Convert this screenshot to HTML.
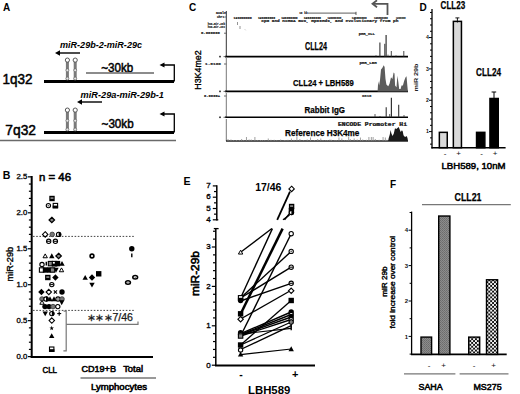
<!DOCTYPE html><html><head><meta charset="utf-8"><style>html,body{margin:0;padding:0;background:#fff;}svg{display:block;font-family:"Liberation Sans",sans-serif;}</style></head><body>
<svg width="520" height="394" viewBox="0 0 520 394">
<defs><pattern id="hatch" width="2" height="2" patternUnits="userSpaceOnUse"><rect width="2" height="2" fill="#8c8c8c"/><rect width="1" height="1" fill="#6c6c6c"/><rect x="1" y="1" width="1" height="1" fill="#747474"/></pattern><pattern id="check" width="3.8" height="3.8" patternUnits="userSpaceOnUse"><rect width="3.8" height="3.8" fill="#f4f4f4"/><rect width="1.9" height="1.9" fill="#111"/><rect x="1.9" y="1.9" width="1.9" height="1.9" fill="#111"/></pattern></defs>
<rect width="520" height="394" fill="#fff"/>
<text x="3" y="11" font-size="10" font-weight="bold" font-style="normal" fill="#000" text-anchor="start" >A</text>
<text x="60" y="48" font-size="9.5" font-weight="bold" font-style="italic" fill="#000" text-anchor="start" textLength="82" lengthAdjust="spacingAndGlyphs" >miR-29b-2-miR-29c</text>
<line x1="58" y1="53" x2="80" y2="53" stroke="#000" stroke-width="1.4" />
<polygon points="55,53 60,50.3 60,55.7" fill="#000" stroke="none" stroke-width="0"/>
<text x="80.6" y="98.3" font-size="9.5" font-weight="bold" font-style="italic" fill="#000" text-anchor="start" textLength="83.4" lengthAdjust="spacingAndGlyphs" >miR-29a-miR-29b-1</text>
<line x1="80" y1="102" x2="102" y2="102" stroke="#000" stroke-width="1.4" />
<polygon points="77,102 82,99.3 82,104.7" fill="#000" stroke="none" stroke-width="0"/>
<text x="2.4" y="84.3" font-size="14.5" font-weight="normal" font-style="normal" fill="#000" text-anchor="start" textLength="30" lengthAdjust="spacingAndGlyphs" stroke="#000" stroke-width="0.5">1q32</text>
<line x1="44" y1="81.5" x2="174" y2="81.5" stroke="#000" stroke-width="3" />
<text x="101.3" y="71.5" font-size="12.5" font-weight="normal" font-style="normal" fill="#000" text-anchor="start" textLength="32" lengthAdjust="spacingAndGlyphs" stroke="#000" stroke-width="0.5">~30kb</text>
<polyline points="174.3,81.5 174.3,65 163,65" fill="none" stroke="#000" stroke-width="1.3" />
<polygon points="159.5,65 164.5,62.4 164.5,67.6" fill="#000" stroke="none" stroke-width="0"/>
<text x="5.3" y="134.7" font-size="14.5" font-weight="normal" font-style="normal" fill="#000" text-anchor="start" textLength="30.7" lengthAdjust="spacingAndGlyphs" stroke="#000" stroke-width="0.5">7q32</text>
<line x1="44" y1="132.5" x2="174" y2="132.5" stroke="#000" stroke-width="3" />
<text x="101.6" y="127.5" font-size="12.5" font-weight="normal" font-style="normal" fill="#000" text-anchor="start" textLength="32" lengthAdjust="spacingAndGlyphs" stroke="#000" stroke-width="0.5">~30kb</text>
<polyline points="174.3,132.5 174.3,114 163,114" fill="none" stroke="#000" stroke-width="1.3" />
<polygon points="159.5,114 164.5,111.4 164.5,116.6" fill="#000" stroke="none" stroke-width="0"/>
<line x1="86" y1="73" x2="154" y2="73" stroke="#666" stroke-width="1.3" />
<rect x="65.9" y="61.7" width="3.0" height="18.299999999999997" fill="#7a7a7a" stroke="none" stroke-width="0" />
<circle cx="67.4" cy="70.21000000000001" r="1.5" fill="#e6e6e6" stroke="#666" stroke-width="0.7"/>
<circle cx="67.4" cy="78.576" r="1.5" fill="#e6e6e6" stroke="#666" stroke-width="0.7"/>
<circle cx="67.4" cy="60.1" r="2.1" fill="#fff" stroke="#555" stroke-width="1.0"/>
<rect x="65.9" y="111.7" width="3.0" height="19.299999999999997" fill="#7a7a7a" stroke="none" stroke-width="0" />
<circle cx="67.4" cy="120.66" r="1.5" fill="#e6e6e6" stroke="#666" stroke-width="0.7"/>
<circle cx="67.4" cy="129.496" r="1.5" fill="#e6e6e6" stroke="#666" stroke-width="0.7"/>
<circle cx="67.4" cy="110.1" r="2.1" fill="#fff" stroke="#555" stroke-width="1.0"/>
<rect x="73.7" y="61.7" width="3.0" height="18.299999999999997" fill="#7a7a7a" stroke="none" stroke-width="0" />
<circle cx="75.2" cy="70.21000000000001" r="1.5" fill="#e6e6e6" stroke="#666" stroke-width="0.7"/>
<circle cx="75.2" cy="78.576" r="1.5" fill="#e6e6e6" stroke="#666" stroke-width="0.7"/>
<circle cx="75.2" cy="60.1" r="2.1" fill="#fff" stroke="#555" stroke-width="1.0"/>
<rect x="73.7" y="111.7" width="3.0" height="19.299999999999997" fill="#7a7a7a" stroke="none" stroke-width="0" />
<circle cx="75.2" cy="120.66" r="1.5" fill="#e6e6e6" stroke="#666" stroke-width="0.7"/>
<circle cx="75.2" cy="129.496" r="1.5" fill="#e6e6e6" stroke="#666" stroke-width="0.7"/>
<circle cx="75.2" cy="110.1" r="2.1" fill="#fff" stroke="#555" stroke-width="1.0"/>
<line x1="0" y1="140.5" x2="176" y2="140.5" stroke="#6a6a6a" stroke-width="1.6" />
<text x="189" y="11" font-size="10" font-weight="bold" font-style="normal" fill="#000" text-anchor="start" >C</text>
<text x="200.6" y="70" font-size="9.2" font-weight="normal" font-style="normal" fill="#000" text-anchor="middle" textLength="39.5" lengthAdjust="spacingAndGlyphs" transform="rotate(-90 200.6 70)" stroke="#000" stroke-width="0.35">H3K4me2</text>
<line x1="226.3" y1="11" x2="226.3" y2="56.6" stroke="#333" stroke-width="1" />
<line x1="226.3" y1="58" x2="226.3" y2="91.4" stroke="#777" stroke-width="1" />
<line x1="226.3" y1="93" x2="226.3" y2="117.3" stroke="#777" stroke-width="1" />
<line x1="226.3" y1="119" x2="226.3" y2="141" stroke="#777" stroke-width="1" />
<line x1="225" y1="56.6" x2="408" y2="56.6" stroke="#000" stroke-width="1.8" />
<line x1="225" y1="91.4" x2="408" y2="91.4" stroke="#000" stroke-width="1.6" />
<line x1="225" y1="117.3" x2="408" y2="117.3" stroke="#000" stroke-width="1.6" />
<line x1="226" y1="141" x2="408" y2="141" stroke="#222" stroke-width="1.4" />
<rect x="219.2" y="55.800000000000004" width="1.6" height="1.6" fill="#222" stroke="none" stroke-width="0" />
<line x1="223.5" y1="56.6" x2="226" y2="56.6" stroke="#444" stroke-width="0.8" />
<rect x="219.2" y="90.60000000000001" width="1.6" height="1.6" fill="#222" stroke="none" stroke-width="0" />
<line x1="223.5" y1="91.4" x2="226" y2="91.4" stroke="#444" stroke-width="0.8" />
<rect x="219.2" y="116.5" width="1.6" height="1.6" fill="#222" stroke="none" stroke-width="0" />
<line x1="223.5" y1="117.3" x2="226" y2="117.3" stroke="#444" stroke-width="0.8" />
<text x="201" y="34.4" font-size="4.32" font-weight="bold" font-style="normal" fill="#111" text-anchor="start" font-family="Liberation Mono, monospace" stroke="#111" stroke-width="0.22" textLength="19" lengthAdjust="spacingAndGlyphs" >0.000000</text>
<line x1="224" y1="33.2" x2="226.3" y2="33.2" stroke="#444" stroke-width="0.8" />
<text x="205" y="64.6" font-size="4.32" font-weight="bold" font-style="normal" fill="#222" text-anchor="start" font-family="Liberation Mono, monospace" stroke="#222" stroke-width="0.22" textLength="16" lengthAdjust="spacingAndGlyphs" >1.6100</text>
<line x1="224" y1="64" x2="226.3" y2="64" stroke="#444" stroke-width="0.8" />
<text x="204" y="96.6" font-size="4.32" font-weight="bold" font-style="normal" fill="#111" text-anchor="start" font-family="Liberation Mono, monospace" stroke="#111" stroke-width="0.22" textLength="16" lengthAdjust="spacingAndGlyphs" >0.0000+</text>
<line x1="224" y1="96" x2="226.3" y2="96" stroke="#444" stroke-width="0.8" />
<text x="216" y="13.6" font-size="3.6" font-weight="bold" font-style="normal" fill="#222" text-anchor="start" font-family="Liberation Mono, monospace" stroke="#222" stroke-width="0.22" textLength="10" lengthAdjust="spacingAndGlyphs" >Scale</text>
<text x="217" y="17.8" font-size="3.6" font-weight="bold" font-style="normal" fill="#222" text-anchor="start" font-family="Liberation Mono, monospace" stroke="#222" stroke-width="0.22" textLength="9" lengthAdjust="spacingAndGlyphs" >chr1:</text>
<text x="207.7" y="24.8" font-size="3.36" font-weight="bold" font-style="normal" fill="#333" text-anchor="start" font-family="Liberation Mono, monospace" stroke="#333" stroke-width="0.22" textLength="17.3" lengthAdjust="spacingAndGlyphs" >hsa-mir-29b</text>
<text x="207.7" y="28.2" font-size="3.36" font-weight="bold" font-style="normal" fill="#333" text-anchor="start" font-family="Liberation Mono, monospace" stroke="#333" stroke-width="0.22" textLength="17.3" lengthAdjust="spacingAndGlyphs" >hsa-mir-29c</text>
<text x="233.6" y="18.6" font-size="4.08" font-weight="bold" font-style="normal" fill="#111" text-anchor="start" font-family="Liberation Mono, monospace" stroke="#111" stroke-width="0.22" textLength="18.2" lengthAdjust="spacingAndGlyphs" >120300000</text>
<text x="257.9" y="18.6" font-size="4.08" font-weight="bold" font-style="normal" fill="#111" text-anchor="start" font-family="Liberation Mono, monospace" stroke="#111" stroke-width="0.22" textLength="17.3" lengthAdjust="spacingAndGlyphs" >120300000</text>
<text x="281.2" y="18.6" font-size="4.08" font-weight="bold" font-style="normal" fill="#111" text-anchor="start" font-family="Liberation Mono, monospace" stroke="#111" stroke-width="0.22" textLength="16.5" lengthAdjust="spacingAndGlyphs" >120300000</text>
<text x="303.7" y="18.6" font-size="4.08" font-weight="bold" font-style="normal" fill="#111" text-anchor="start" font-family="Liberation Mono, monospace" stroke="#111" stroke-width="0.22" textLength="17.3" lengthAdjust="spacingAndGlyphs" >120300000</text>
<text x="327.5" y="18.6" font-size="4.08" font-weight="bold" font-style="normal" fill="#111" text-anchor="start" font-family="Liberation Mono, monospace" stroke="#111" stroke-width="0.22" textLength="13.7" lengthAdjust="spacingAndGlyphs" >120300000</text>
<text x="351.8" y="18.6" font-size="4.08" font-weight="bold" font-style="normal" fill="#111" text-anchor="start" font-family="Liberation Mono, monospace" stroke="#111" stroke-width="0.22" textLength="14.8" lengthAdjust="spacingAndGlyphs" >120300000</text>
<text x="374" y="18.6" font-size="4.08" font-weight="bold" font-style="normal" fill="#111" text-anchor="start" font-family="Liberation Mono, monospace" stroke="#111" stroke-width="0.22" textLength="13.7" lengthAdjust="spacingAndGlyphs" >120300000</text>
<text x="396" y="18.6" font-size="4.08" font-weight="bold" font-style="normal" fill="#111" text-anchor="start" font-family="Liberation Mono, monospace" stroke="#111" stroke-width="0.22" textLength="9.7" lengthAdjust="spacingAndGlyphs" >120300000</text>
<text x="261.3" y="22.4" font-size="3.6" font-weight="bold" font-style="normal" fill="#222" text-anchor="start" font-family="Liberation Mono, monospace" stroke="#222" stroke-width="0.22" textLength="137" lengthAdjust="spacingAndGlyphs" >CpG and ncRNA Bus, Mp99Hds, and evolutionary from ph</text>
<text x="299.2" y="14.0" font-size="4.32" font-weight="bold" font-style="normal" fill="#222" text-anchor="start" font-family="Liberation Mono, monospace" stroke="#222" stroke-width="0.22" textLength="8.4" lengthAdjust="spacingAndGlyphs" >10 kb</text>
<line x1="308" y1="13.1" x2="356" y2="13.1" stroke="#333" stroke-width="0.8" />
<line x1="356" y1="11.8" x2="356" y2="15" stroke="#333" stroke-width="0.8" />
<line x1="237.5" y1="22" x2="237.5" y2="25" stroke="#666" stroke-width="0.7" />
<line x1="240" y1="26" x2="240" y2="29" stroke="#666" stroke-width="0.7" />
<line x1="245" y1="29.5" x2="245.6" y2="30.2" stroke="#888" stroke-width="0.7" />
<polyline points="387.5,15 387.5,3.8 373,3.8" fill="none" stroke="#555" stroke-width="1.8" />
<polyline points="377,0.3 372.5,3.8 377,7.3" fill="none" stroke="#555" stroke-width="1.8" />
<text x="305" y="50.2" font-size="10.4" font-weight="bold" font-style="normal" fill="#000" text-anchor="start" textLength="22" lengthAdjust="spacingAndGlyphs" stroke="#000" stroke-width="0.25">CLL24</text>
<text x="293" y="85.9" font-size="9.8" font-weight="bold" font-style="normal" fill="#000" text-anchor="start" textLength="60.7" lengthAdjust="spacingAndGlyphs" stroke="#000" stroke-width="0.25">CLL24 + LBH589</text>
<text x="304.6" y="113.3" font-size="9.4" font-weight="bold" font-style="normal" fill="#000" text-anchor="start" textLength="40.4" lengthAdjust="spacingAndGlyphs" stroke="#000" stroke-width="0.25">Rabbit IgG</text>
<text x="285" y="136.4" font-size="8.9" font-weight="bold" font-style="normal" fill="#000" text-anchor="start" textLength="74.4" lengthAdjust="spacingAndGlyphs" stroke="#000" stroke-width="0.25">Reference H3K4me</text>
<text x="358.7" y="34.8" font-size="3.6" font-weight="bold" font-style="normal" fill="#222" text-anchor="start" font-family="Liberation Mono, monospace" stroke="#222" stroke-width="0.22" textLength="16.2" lengthAdjust="spacingAndGlyphs" >pHR_CLL</text>
<text x="359.4" y="63.6" font-size="3.6" font-weight="bold" font-style="normal" fill="#222" text-anchor="start" font-family="Liberation Mono, monospace" stroke="#222" stroke-width="0.22" textLength="17.3" lengthAdjust="spacingAndGlyphs" >pHR_LBH</text>
<text x="362" y="96.8" font-size="3.6" font-weight="bold" font-style="normal" fill="#333" text-anchor="start" font-family="Liberation Mono, monospace" stroke="#333" stroke-width="0.22" textLength="9.5" lengthAdjust="spacingAndGlyphs" >0816</text>
<text x="338" y="125.8" font-size="4.56" font-weight="bold" font-style="normal" fill="#111" text-anchor="start" font-family="Liberation Mono, monospace" stroke="#111" stroke-width="0.22" textLength="69" lengthAdjust="spacingAndGlyphs" >ENCODE Promoter Hi</text>
<line x1="379.9" y1="42.5" x2="379.9" y2="56.6" stroke="#333" stroke-width="1.1" />
<line x1="384.8" y1="43.8" x2="384.8" y2="56.6" stroke="#333" stroke-width="1.0" />
<line x1="386.1" y1="35" x2="386.1" y2="56.6" stroke="#333" stroke-width="1.2" />
<line x1="391.3" y1="51" x2="391.3" y2="56.6" stroke="#333" stroke-width="0.9" />
<line x1="403.8" y1="51" x2="403.8" y2="56.6" stroke="#333" stroke-width="0.9" />
<line x1="376" y1="55" x2="376" y2="56.6" stroke="#333" stroke-width="0.6" />
<line x1="388" y1="54.5" x2="388" y2="56.6" stroke="#333" stroke-width="0.6" />
<line x1="396" y1="55.2" x2="396" y2="56.6" stroke="#333" stroke-width="0.6" />
<polygon points="377.6,91.4 378.2,81.3 379.1,85.4 380,80 381,69.4 382.3,68 383.7,65.3 384.6,67.1 385.5,79 386.4,84.5 387.4,85.4 388.3,86.3 389.6,83.6 391,77.2 392.4,79 393.6,72.6 394.5,73.5 395.1,85.4 396.5,87.2 397.4,75.8 398.3,81.7 399.2,89 400.6,89 401.5,85.4 402.9,85.4 404.2,80.8 405.6,77.2 406.5,76.3 407.4,86.3 407.9,91.4" fill="#5c5c5c" stroke="none" stroke-width="0"/>
<line x1="375" y1="114" x2="375" y2="117.3" stroke="#333" stroke-width="0.8" />
<line x1="380" y1="116" x2="380" y2="117.3" stroke="#333" stroke-width="0.8" />
<line x1="386.2" y1="107.3" x2="386.2" y2="117.3" stroke="#333" stroke-width="1.1" />
<line x1="389.7" y1="114" x2="389.7" y2="117.3" stroke="#333" stroke-width="0.8" />
<line x1="391.4" y1="97.8" x2="391.4" y2="117.3" stroke="#333" stroke-width="1.2" />
<line x1="398.7" y1="104.7" x2="398.7" y2="117.3" stroke="#333" stroke-width="1.1" />
<line x1="404" y1="115" x2="404" y2="117.3" stroke="#333" stroke-width="0.8" />
<line x1="228" y1="139" x2="228" y2="141" stroke="#888" stroke-width="0.8" />
<line x1="230.9816022765679" y1="139.5" x2="230.9816022765679" y2="141" stroke="#888" stroke-width="0.8" />
<line x1="233.40649019293812" y1="140.2" x2="233.40649019293812" y2="141" stroke="#888" stroke-width="0.8" />
<line x1="236.47079095320825" y1="140" x2="236.47079095320825" y2="141" stroke="#888" stroke-width="0.8" />
<line x1="239.48478977855657" y1="140.2" x2="239.48478977855657" y2="141" stroke="#888" stroke-width="0.8" />
<line x1="241.6331748143766" y1="139" x2="241.6331748143766" y2="141" stroke="#888" stroke-width="0.8" />
<line x1="243.61253507436484" y1="140.2" x2="243.61253507436484" y2="141" stroke="#888" stroke-width="0.8" />
<line x1="246.46496978843743" y1="137" x2="246.46496978843743" y2="141" stroke="#888" stroke-width="0.8" />
<line x1="249.15585281018576" y1="139.5" x2="249.15585281018576" y2="141" stroke="#888" stroke-width="0.8" />
<line x1="251.23565782362743" y1="139.5" x2="251.23565782362743" y2="141" stroke="#888" stroke-width="0.8" />
<line x1="254.9057710914857" y1="137" x2="254.9057710914857" y2="141" stroke="#888" stroke-width="0.8" />
<line x1="257.3806128937037" y1="140.2" x2="257.3806128937037" y2="141" stroke="#888" stroke-width="0.8" />
<line x1="260.55914158212767" y1="140" x2="260.55914158212767" y2="141" stroke="#888" stroke-width="0.8" />
<line x1="262.4576414315334" y1="140.2" x2="262.4576414315334" y2="141" stroke="#888" stroke-width="0.8" />
<line x1="264.71081058032263" y1="140.2" x2="264.71081058032263" y2="141" stroke="#888" stroke-width="0.8" />
<line x1="268.2697368584058" y1="138.5" x2="268.2697368584058" y2="141" stroke="#888" stroke-width="0.8" />
<line x1="270.9516095800695" y1="139.8" x2="270.9516095800695" y2="141" stroke="#888" stroke-width="0.8" />
<line x1="274.23693328909746" y1="139.8" x2="274.23693328909746" y2="141" stroke="#888" stroke-width="0.8" />
<line x1="276.7243417990993" y1="140.2" x2="276.7243417990993" y2="141" stroke="#888" stroke-width="0.8" />
<line x1="280.63457617841294" y1="139.5" x2="280.63457617841294" y2="141" stroke="#888" stroke-width="0.8" />
<line x1="284.331742829258" y1="140" x2="284.331742829258" y2="141" stroke="#888" stroke-width="0.8" />
<line x1="285.9214594078304" y1="140.2" x2="285.9214594078304" y2="141" stroke="#888" stroke-width="0.8" />
<line x1="287.96392676091324" y1="139.8" x2="287.96392676091324" y2="141" stroke="#888" stroke-width="0.8" />
<line x1="291.4113582251578" y1="138.5" x2="291.4113582251578" y2="141" stroke="#888" stroke-width="0.8" />
<line x1="293.9642295065738" y1="139.8" x2="293.9642295065738" y2="141" stroke="#888" stroke-width="0.8" />
<line x1="296.8992863447977" y1="137" x2="296.8992863447977" y2="141" stroke="#888" stroke-width="0.8" />
<line x1="299.8619716133111" y1="139" x2="299.8619716133111" y2="141" stroke="#888" stroke-width="0.8" />
<line x1="303.6224760404305" y1="140.2" x2="303.6224760404305" y2="141" stroke="#888" stroke-width="0.8" />
<line x1="307.2634774564224" y1="139.5" x2="307.2634774564224" y2="141" stroke="#888" stroke-width="0.8" />
<line x1="310.51001713225116" y1="137.5" x2="310.51001713225116" y2="141" stroke="#888" stroke-width="0.8" />
<line x1="314.4215995005238" y1="140" x2="314.4215995005238" y2="141" stroke="#888" stroke-width="0.8" />
<line x1="317.70614205095933" y1="139" x2="317.70614205095933" y2="141" stroke="#888" stroke-width="0.8" />
<line x1="320.7885818131569" y1="138.5" x2="320.7885818131569" y2="141" stroke="#888" stroke-width="0.8" />
<line x1="323.0009754681224" y1="140" x2="323.0009754681224" y2="141" stroke="#888" stroke-width="0.8" />
<line x1="325.7059790249913" y1="140.2" x2="325.7059790249913" y2="141" stroke="#888" stroke-width="0.8" />
<line x1="327.4272742577656" y1="140" x2="327.4272742577656" y2="141" stroke="#888" stroke-width="0.8" />
<line x1="329.95342882613033" y1="139.5" x2="329.95342882613033" y2="141" stroke="#888" stroke-width="0.8" />
<line x1="331.50374221122" y1="139.8" x2="331.50374221122" y2="141" stroke="#888" stroke-width="0.8" />
<line x1="334.9257219294134" y1="140" x2="334.9257219294134" y2="141" stroke="#888" stroke-width="0.8" />
<line x1="336.53619708223727" y1="140.2" x2="336.53619708223727" y2="141" stroke="#888" stroke-width="0.8" />
<line x1="338.9807090046571" y1="137.5" x2="338.9807090046571" y2="141" stroke="#888" stroke-width="0.8" />
<line x1="341.8578376072383" y1="138.5" x2="341.8578376072383" y2="141" stroke="#888" stroke-width="0.8" />
<line x1="344.62138854135844" y1="140.2" x2="344.62138854135844" y2="141" stroke="#888" stroke-width="0.8" />
<line x1="346.8955636750493" y1="140" x2="346.8955636750493" y2="141" stroke="#888" stroke-width="0.8" />
<line x1="348.66586193996557" y1="137" x2="348.66586193996557" y2="141" stroke="#888" stroke-width="0.8" />
<line x1="350.24430634540386" y1="139" x2="350.24430634540386" y2="141" stroke="#888" stroke-width="0.8" />
<line x1="354.17287799072216" y1="138.5" x2="354.17287799072216" y2="141" stroke="#888" stroke-width="0.8" />
<line x1="357.1990457981405" y1="139.5" x2="357.1990457981405" y2="141" stroke="#888" stroke-width="0.8" />
<line x1="360.4233784817193" y1="137.5" x2="360.4233784817193" y2="141" stroke="#888" stroke-width="0.8" />
<line x1="362.7079547815095" y1="139.5" x2="362.7079547815095" y2="141" stroke="#888" stroke-width="0.8" />
<line x1="366.4496038850785" y1="139.8" x2="366.4496038850785" y2="141" stroke="#888" stroke-width="0.8" />
<line x1="368.89148192931884" y1="137" x2="368.89148192931884" y2="141" stroke="#888" stroke-width="0.8" />
<line x1="371.356964291751" y1="137" x2="371.356964291751" y2="141" stroke="#888" stroke-width="0.8" />
<line x1="373.1133963560035" y1="137" x2="373.1133963560035" y2="141" stroke="#888" stroke-width="0.8" />
<line x1="375.29164793598835" y1="139" x2="375.29164793598835" y2="141" stroke="#888" stroke-width="0.8" />
<line x1="379.13273769316794" y1="139.8" x2="379.13273769316794" y2="141" stroke="#888" stroke-width="0.8" />
<line x1="383.07723098428954" y1="137" x2="383.07723098428954" y2="141" stroke="#888" stroke-width="0.8" />
<line x1="385.3347138286652" y1="137.5" x2="385.3347138286652" y2="141" stroke="#888" stroke-width="0.8" />
<line x1="386.86335754457576" y1="139.8" x2="386.86335754457576" y2="141" stroke="#888" stroke-width="0.8" />
<polygon points="388.2,141 388.6,138.4 389.8,134.4 390.6,130 391.4,133.6 392.6,136 393.8,133.6 395,128.3 396.3,129.1 397.5,127.9 398.7,127.1 399.5,129.1 400.7,132 401.9,130.3 402.7,131.2 403.5,135.2 404.7,136.8 405.9,136.8 406.8,136 407.6,138.4 408,141" fill="#1a1a1a" stroke="none" stroke-width="0"/>
<text x="419.4" y="11" font-size="10" font-weight="bold" font-style="normal" fill="#000" text-anchor="start" >D</text>
<text x="440.6" y="9" font-size="10.0" font-weight="bold" font-style="normal" fill="#000" text-anchor="start" textLength="24.6" lengthAdjust="spacingAndGlyphs" stroke="#000" stroke-width="0.25">CLL23</text>
<text x="476" y="75.5" font-size="10.4" font-weight="bold" font-style="normal" fill="#000" text-anchor="start" textLength="25" lengthAdjust="spacingAndGlyphs" stroke="#000" stroke-width="0.25">CLL24</text>
<text x="418.4" y="77.5" font-size="5.8" font-weight="bold" font-style="normal" fill="#222" text-anchor="middle" textLength="28" lengthAdjust="spacingAndGlyphs" transform="rotate(-90 418.4 77.5)" >miR 29b</text>
<line x1="432" y1="9" x2="432" y2="148.4" stroke="#000" stroke-width="1.3" />
<line x1="430" y1="144.14" x2="432" y2="144.14" stroke="#000" stroke-width="1" />
<line x1="430" y1="137.87" x2="432" y2="137.87" stroke="#000" stroke-width="1" />
<line x1="429" y1="131.6" x2="432" y2="131.6" stroke="#000" stroke-width="1" />
<line x1="430" y1="125.33" x2="432" y2="125.33" stroke="#000" stroke-width="1" />
<line x1="430" y1="119.06" x2="432" y2="119.06" stroke="#000" stroke-width="1" />
<line x1="430" y1="112.78999999999999" x2="432" y2="112.78999999999999" stroke="#000" stroke-width="1" />
<line x1="430" y1="106.52" x2="432" y2="106.52" stroke="#000" stroke-width="1" />
<line x1="429" y1="100.25" x2="432" y2="100.25" stroke="#000" stroke-width="1" />
<line x1="430" y1="93.97999999999999" x2="432" y2="93.97999999999999" stroke="#000" stroke-width="1" />
<line x1="430" y1="87.71" x2="432" y2="87.71" stroke="#000" stroke-width="1" />
<line x1="430" y1="81.44" x2="432" y2="81.44" stroke="#000" stroke-width="1" />
<line x1="430" y1="75.16999999999999" x2="432" y2="75.16999999999999" stroke="#000" stroke-width="1" />
<line x1="429" y1="68.89999999999999" x2="432" y2="68.89999999999999" stroke="#000" stroke-width="1" />
<line x1="430" y1="62.62999999999998" x2="432" y2="62.62999999999998" stroke="#000" stroke-width="1" />
<line x1="430" y1="56.36" x2="432" y2="56.36" stroke="#000" stroke-width="1" />
<line x1="430" y1="50.08999999999999" x2="432" y2="50.08999999999999" stroke="#000" stroke-width="1" />
<line x1="430" y1="43.81999999999999" x2="432" y2="43.81999999999999" stroke="#000" stroke-width="1" />
<line x1="429" y1="37.54999999999998" x2="432" y2="37.54999999999998" stroke="#000" stroke-width="1" />
<line x1="430" y1="31.279999999999987" x2="432" y2="31.279999999999987" stroke="#000" stroke-width="1" />
<line x1="430" y1="25.009999999999977" x2="432" y2="25.009999999999977" stroke="#000" stroke-width="1" />
<line x1="430" y1="18.739999999999995" x2="432" y2="18.739999999999995" stroke="#000" stroke-width="1" />
<line x1="430" y1="12.469999999999999" x2="432" y2="12.469999999999999" stroke="#000" stroke-width="1" />
<text x="429.0" y="133.4" font-size="5.2" font-weight="bold" font-style="normal" fill="#111" text-anchor="end" >1</text>
<text x="429.0" y="102.05" font-size="5.2" font-weight="bold" font-style="normal" fill="#111" text-anchor="end" >2</text>
<text x="429.0" y="70.69999999999999" font-size="5.2" font-weight="bold" font-style="normal" fill="#111" text-anchor="end" >3</text>
<text x="429.0" y="39.34999999999998" font-size="5.2" font-weight="bold" font-style="normal" fill="#111" text-anchor="end" >4</text>
<line x1="431.4" y1="147.7" x2="505.6" y2="147.7" stroke="#000" stroke-width="1.5" />
<rect x="439.35" y="132.35" width="7.899999999999977" height="15.349999999999994" fill="#d9d9d9" stroke="#000" stroke-width="1.5" />
<rect x="453.35" y="21.370999999999995" width="8.099999999999966" height="126.329" fill="#d9d9d9" stroke="#000" stroke-width="1.5" />
<rect x="476.55" y="132.35" width="8.300000000000011" height="15.349999999999994" fill="#000" stroke="#000" stroke-width="1.5" />
<rect x="489.95" y="98.49199999999999" width="8.300000000000011" height="49.208" fill="#000" stroke="#000" stroke-width="1.5" />
<line x1="457.4" y1="17.9" x2="457.4" y2="22.5" stroke="#000" stroke-width="0.9" />
<line x1="455.4" y1="17.9" x2="459.4" y2="17.9" stroke="#000" stroke-width="0.9" />
<line x1="494" y1="92" x2="494" y2="98" stroke="#000" stroke-width="1" />
<line x1="491.6" y1="92" x2="496.2" y2="92" stroke="#000" stroke-width="1" />
<text x="445" y="156" font-size="8" font-weight="normal" font-style="normal" fill="#111" text-anchor="middle" >-</text>
<text x="458.6" y="156" font-size="8" font-weight="normal" font-style="normal" fill="#111" text-anchor="middle" >+</text>
<text x="481.5" y="156" font-size="8" font-weight="normal" font-style="normal" fill="#111" text-anchor="middle" >-</text>
<text x="495" y="156" font-size="8" font-weight="normal" font-style="normal" fill="#111" text-anchor="middle" >+</text>
<text x="441.5" y="168.8" font-size="9.2" font-weight="normal" font-style="normal" fill="#000" text-anchor="start" textLength="64" lengthAdjust="spacingAndGlyphs" stroke="#000" stroke-width="0.5">LBH589, 10nM</text>
<text x="2.8" y="178.8" font-size="10.6" font-weight="bold" font-style="normal" fill="#000" text-anchor="start" >B</text>
<text x="39" y="180.6" font-size="11" font-weight="normal" font-style="normal" fill="#000" text-anchor="start" textLength="32" lengthAdjust="spacingAndGlyphs" stroke="#000" stroke-width="0.55">n = 46</text>
<line x1="31.7" y1="176" x2="31.7" y2="357.8" stroke="#000" stroke-width="2" />
<line x1="30.7" y1="357" x2="153" y2="357" stroke="#000" stroke-width="2" />
<line x1="27.9" y1="356.6" x2="31.7" y2="356.6" stroke="#000" stroke-width="1.2" />
<line x1="28.9" y1="349.41" x2="31.7" y2="349.41" stroke="#000" stroke-width="1.2" />
<line x1="28.9" y1="342.22" x2="31.7" y2="342.22" stroke="#000" stroke-width="1.2" />
<line x1="28.9" y1="335.03000000000003" x2="31.7" y2="335.03000000000003" stroke="#000" stroke-width="1.2" />
<line x1="28.9" y1="327.84000000000003" x2="31.7" y2="327.84000000000003" stroke="#000" stroke-width="1.2" />
<line x1="27.9" y1="320.65000000000003" x2="31.7" y2="320.65000000000003" stroke="#000" stroke-width="1.2" />
<line x1="28.9" y1="313.46000000000004" x2="31.7" y2="313.46000000000004" stroke="#000" stroke-width="1.2" />
<line x1="28.9" y1="306.27000000000004" x2="31.7" y2="306.27000000000004" stroke="#000" stroke-width="1.2" />
<line x1="28.9" y1="299.08000000000004" x2="31.7" y2="299.08000000000004" stroke="#000" stroke-width="1.2" />
<line x1="28.9" y1="291.89" x2="31.7" y2="291.89" stroke="#000" stroke-width="1.2" />
<line x1="27.9" y1="284.70000000000005" x2="31.7" y2="284.70000000000005" stroke="#000" stroke-width="1.2" />
<line x1="28.9" y1="277.51" x2="31.7" y2="277.51" stroke="#000" stroke-width="1.2" />
<line x1="28.9" y1="270.32000000000005" x2="31.7" y2="270.32000000000005" stroke="#000" stroke-width="1.2" />
<line x1="28.9" y1="263.13" x2="31.7" y2="263.13" stroke="#000" stroke-width="1.2" />
<line x1="28.9" y1="255.94000000000003" x2="31.7" y2="255.94000000000003" stroke="#000" stroke-width="1.2" />
<line x1="27.9" y1="248.75" x2="31.7" y2="248.75" stroke="#000" stroke-width="1.2" />
<line x1="28.9" y1="241.56" x2="31.7" y2="241.56" stroke="#000" stroke-width="1.2" />
<line x1="28.9" y1="234.37" x2="31.7" y2="234.37" stroke="#000" stroke-width="1.2" />
<line x1="28.9" y1="227.18" x2="31.7" y2="227.18" stroke="#000" stroke-width="1.2" />
<line x1="28.9" y1="219.99" x2="31.7" y2="219.99" stroke="#000" stroke-width="1.2" />
<line x1="27.9" y1="212.8" x2="31.7" y2="212.8" stroke="#000" stroke-width="1.2" />
<line x1="28.9" y1="205.61" x2="31.7" y2="205.61" stroke="#000" stroke-width="1.2" />
<line x1="28.9" y1="198.42" x2="31.7" y2="198.42" stroke="#000" stroke-width="1.2" />
<line x1="28.9" y1="191.23000000000002" x2="31.7" y2="191.23000000000002" stroke="#000" stroke-width="1.2" />
<line x1="28.9" y1="184.04000000000002" x2="31.7" y2="184.04000000000002" stroke="#000" stroke-width="1.2" />
<line x1="27.9" y1="176.85000000000002" x2="31.7" y2="176.85000000000002" stroke="#000" stroke-width="1.2" />
<text x="16.5" y="179.15000000000003" font-size="6.6" font-weight="normal" font-style="normal" fill="#111" text-anchor="start" textLength="10.8" lengthAdjust="spacingAndGlyphs" stroke="#000" stroke-width="0.3">2.5</text>
<text x="16.5" y="215.10000000000002" font-size="6.6" font-weight="normal" font-style="normal" fill="#111" text-anchor="start" textLength="10.8" lengthAdjust="spacingAndGlyphs" stroke="#000" stroke-width="0.3">2.0</text>
<text x="16.5" y="251.05" font-size="6.6" font-weight="normal" font-style="normal" fill="#111" text-anchor="start" textLength="10.8" lengthAdjust="spacingAndGlyphs" stroke="#000" stroke-width="0.3">1.5</text>
<text x="16.5" y="287.00000000000006" font-size="6.6" font-weight="normal" font-style="normal" fill="#111" text-anchor="start" textLength="10.8" lengthAdjust="spacingAndGlyphs" stroke="#000" stroke-width="0.3">1.0</text>
<text x="16.5" y="322.95000000000005" font-size="6.6" font-weight="normal" font-style="normal" fill="#111" text-anchor="start" textLength="10.8" lengthAdjust="spacingAndGlyphs" stroke="#000" stroke-width="0.3">0.5</text>
<text x="16.5" y="358.90000000000003" font-size="6.6" font-weight="normal" font-style="normal" fill="#111" text-anchor="start" textLength="10.8" lengthAdjust="spacingAndGlyphs" stroke="#000" stroke-width="0.3">0.0</text>

<line x1="33" y1="236.4" x2="135" y2="236.4" stroke="#444" stroke-width="1" stroke-dasharray="1.6,1.6"/>
<line x1="33" y1="310.4" x2="135" y2="310.4" stroke="#444" stroke-width="1" stroke-dasharray="1.6,1.6"/>
<polyline points="63.6,311.2 66.2,311.2 66.2,350.8 63.4,350.8" fill="none" stroke="#777" stroke-width="1.2" />
<polyline points="66.2,324.4 138,324.4 138,321.6" fill="none" stroke="#777" stroke-width="1.2" />
<text x="87" y="321.2" font-size="10" font-weight="normal" font-style="normal" fill="#1a1a1a" text-anchor="start" textLength="46" lengthAdjust="spacingAndGlyphs" stroke="#1a1a1a" stroke-width="0.25">∗∗∗7/46</text>
<text x="42.5" y="372.5" font-size="8.8" font-weight="normal" font-style="normal" fill="#000" text-anchor="start" textLength="14.5" lengthAdjust="spacingAndGlyphs" stroke="#000" stroke-width="0.55">CLL</text>
<text x="81.4" y="372.4" font-size="9.3" font-weight="normal" font-style="normal" fill="#000" text-anchor="start" textLength="34.6" lengthAdjust="spacingAndGlyphs" stroke="#000" stroke-width="0.55">CD19+B</text>
<text x="123.2" y="372.4" font-size="9.2" font-weight="normal" font-style="normal" fill="#000" text-anchor="start" textLength="19.8" lengthAdjust="spacingAndGlyphs" stroke="#000" stroke-width="0.55">Total</text>
<line x1="80.5" y1="378" x2="156" y2="378" stroke="#777" stroke-width="1.3" />
<text x="91" y="390.4" font-size="8.8" font-weight="normal" font-style="normal" fill="#000" text-anchor="start" textLength="56" lengthAdjust="spacingAndGlyphs" stroke="#000" stroke-width="0.55">Lymphocytes</text>
<text x="13.3" y="264.2" font-size="8.8" font-weight="normal" font-style="normal" fill="#000" text-anchor="middle" textLength="34.6" lengthAdjust="spacingAndGlyphs" transform="rotate(-90 13.3 264.2)" stroke="#000" stroke-width="0.35">miR-29b</text>
<rect x="49.3" y="195.8" width="5.4" height="5.4" fill="#000" stroke="none" stroke-width="0" />
<rect x="50.5" y="197.6" width="3.0000000000000004" height="0.9" fill="#fff" stroke="none" stroke-width="0" />
<circle cx="48.4" cy="205.6" r="2.1500000000000004" fill="#fff" stroke="#000" stroke-width="1.1"/>
<circle cx="48.4" cy="205.6" r="0.9" fill="#666"/>
<rect x="53.199999999999996" y="203.4" width="4.4" height="4.4" fill="#fff" stroke="#000" stroke-width="1.1" />
<rect x="52.699999999999996" y="205.6" width="5.4" height="2.7" fill="#000" stroke="none" stroke-width="0" />
<polygon points="51.8,217.3 54.5,220 51.8,222.7 49.099999999999994,220" fill="#888" stroke="#000" stroke-width="1.3"/>
<polygon points="45.2,231.70000000000002 47.900000000000006,234.4 45.2,237.1 42.5,234.4" fill="#fff" stroke="#000" stroke-width="1.1"/>
<circle cx="52.2" cy="234.4" r="2.3000000000000003" fill="#777" stroke="#333" stroke-width="0.8"/>
<circle cx="58.6" cy="234.4" r="2.1500000000000004" fill="#fff" stroke="#000" stroke-width="1.1"/>
<path d="M58.6,231.70000000000002 A2.7,2.7 0 0 1 58.6,237.1 Z" fill="#000"/>
<circle cx="48.7" cy="241.3" r="2.1500000000000004" fill="#fff" stroke="#000" stroke-width="1.1"/>
<line x1="47.0" y1="241.3" x2="50.400000000000006" y2="241.3" stroke="#000" stroke-width="1" />
<circle cx="55.4" cy="241.3" r="2.1500000000000004" fill="#fff" stroke="#000" stroke-width="1.1"/>
<line x1="53.699999999999996" y1="241.3" x2="57.1" y2="241.3" stroke="#000" stroke-width="1" />
<polygon points="45.2,253.9 47.400000000000006,257.76000000000005 43.0,257.76000000000005" fill="#fff" stroke="#000" stroke-width="1.0"/>
<polygon points="51.8,253.3 54.5,258.16 49.099999999999994,258.16" fill="#000" stroke="none" stroke-width="0"/>
<polygon points="58.6,253.3 61.300000000000004,256 58.6,258.7 55.9,256" fill="#888" stroke="#000" stroke-width="1.3"/>
<circle cx="42" cy="264.5" r="2.1500000000000004" fill="#fff" stroke="#000" stroke-width="1.1"/>
<line x1="46.3" y1="261.8" x2="46.3" y2="265.40000000000003" stroke="#000" stroke-width="1.4" />
<rect x="48.3" y="261.40000000000003" width="4.4" height="4.4" fill="#888" stroke="#000" stroke-width="1.1" />
<rect x="52.3" y="261.40000000000003" width="4.4" height="4.4" fill="#fff" stroke="#000" stroke-width="1.1" />
<rect x="51.8" y="263.6" width="5.4" height="2.7" fill="#000" stroke="none" stroke-width="0" />
<rect x="54.8" y="260.90000000000003" width="5.4" height="5.4" fill="#000" stroke="none" stroke-width="0" />
<polygon points="62,260.90000000000003 64.7,265.76000000000005 59.3,265.76000000000005" fill="#000" stroke="none" stroke-width="0"/>
<rect x="39.4" y="267.8" width="4.4" height="4.4" fill="#fff" stroke="#000" stroke-width="1.1" />
<rect x="42.8" y="267.3" width="5.4" height="5.4" fill="#000" stroke="none" stroke-width="0" />
<circle cx="49" cy="270" r="2.7" fill="#000"/>
<rect x="50.3" y="267.8" width="4.4" height="4.4" fill="#888" stroke="#000" stroke-width="1.1" />
<polygon points="56,272.7 58.7,267.84 53.3,267.84" fill="#000" stroke="none" stroke-width="0"/>
<polygon points="61.5,267.90000000000003 63.7,271.76000000000005 59.3,271.76000000000005" fill="#fff" stroke="#000" stroke-width="1.0"/>
<rect x="45.099999999999994" y="274.8" width="5.4" height="5.4" fill="#000" stroke="none" stroke-width="0" />
<rect x="46.3" y="276.6" width="3.0000000000000004" height="0.9" fill="#fff" stroke="none" stroke-width="0" />
<polygon points="55.4,274.3 58.6,277.5 55.4,280.7 52.199999999999996,277.5" fill="#000" stroke="none" stroke-width="0"/>
<circle cx="51.8" cy="284.6" r="2.1500000000000004" fill="#fff" stroke="#000" stroke-width="1.1"/>
<line x1="50.099999999999994" y1="284.6" x2="53.5" y2="284.6" stroke="#000" stroke-width="1" />
<polygon points="41.4,288.8 44.6,292 41.4,295.2 38.199999999999996,292" fill="#000" stroke="none" stroke-width="0"/>
<polygon points="48.8,289.3 51.5,292 48.8,294.7 46.099999999999994,292" fill="#fff" stroke="#000" stroke-width="1.1"/>
<line x1="53.8" y1="290.4" x2="57.0" y2="293.6" stroke="#000" stroke-width="1.1" />
<line x1="53.8" y1="293.6" x2="57.0" y2="290.4" stroke="#000" stroke-width="1.1" />
<circle cx="62" cy="292" r="2.7" fill="#000"/>
<circle cx="42" cy="299" r="2.3000000000000003" fill="#777" stroke="#333" stroke-width="0.8"/>
<circle cx="46" cy="299" r="2.1500000000000004" fill="#fff" stroke="#000" stroke-width="1.1"/>
<path d="M46,296.3 A2.7,2.7 0 0 1 46,301.7 Z" fill="#000"/>
<polygon points="50,296.3 52.7,301.16 47.3,301.16" fill="#000" stroke="none" stroke-width="0"/>
<polygon points="54,296.3 56.7,301.16 51.3,301.16" fill="#000" stroke="none" stroke-width="0"/>
<circle cx="58" cy="299" r="2.1500000000000004" fill="#fff" stroke="#000" stroke-width="1.1"/>
<circle cx="58" cy="299" r="0.9" fill="#666"/>
<circle cx="62" cy="299" r="2.3000000000000003" fill="#777" stroke="#333" stroke-width="0.8"/>
<polygon points="42,300.40000000000003 44.2,304.26000000000005 39.8,304.26000000000005" fill="#fff" stroke="#000" stroke-width="1.0"/>
<polygon points="61.7,305.2 64.4,300.34 59.0,300.34" fill="#000" stroke="none" stroke-width="0"/>
<circle cx="45" cy="306.6" r="2.7" fill="#000"/>
<circle cx="49" cy="306.6" r="2.7" fill="#000"/>
<circle cx="53" cy="306.6" r="2.3000000000000003" fill="#777" stroke="#333" stroke-width="0.8"/>
<circle cx="57.8" cy="306.6" r="2.1500000000000004" fill="#fff" stroke="#000" stroke-width="1.1"/>
<polygon points="45.2,316.3 47.900000000000006,311.44 42.5,311.44" fill="#000" stroke="none" stroke-width="0"/>
<circle cx="51.8" cy="313.6" r="2.1500000000000004" fill="#fff" stroke="#000" stroke-width="1.1"/>
<path d="M51.8,310.90000000000003 A2.7,2.7 0 0 1 51.8,316.3 Z" fill="#000"/>
<line x1="57.2" y1="313.6" x2="61.2" y2="313.6" stroke="#000" stroke-width="1.1" />
<line x1="59.2" y1="311.40000000000003" x2="59.2" y2="315.8" stroke="#000" stroke-width="1.1" />
<polygon points="51.8,317.90000000000003 54.5,320.6 51.8,323.3 49.099999999999994,320.6" fill="#fff" stroke="#000" stroke-width="1.1"/>
<polygon points="51.7,325.8 52.29,327.39 53.98,327.46 52.65,328.51 53.11,330.14 51.7,329.2 50.29,330.14 50.75,328.51 49.42,327.46 51.11,327.39" fill="#000" stroke="none" stroke-width="0"/>
<polygon points="51.7,333.2 54.400000000000006,338.06 49.0,338.06" fill="#000" stroke="none" stroke-width="0"/>
<rect x="49.5" y="347.0" width="4.4" height="4.4" fill="#fff" stroke="#000" stroke-width="1.1" />
<rect x="49.0" y="349.2" width="5.4" height="2.7" fill="#000" stroke="none" stroke-width="0" />
<circle cx="92" cy="256" r="1.9000000000000001" fill="#fff" stroke="#000" stroke-width="1.6"/>
<polygon points="85.2,275.0 87.9,279.86 82.5,279.86" fill="#000" stroke="none" stroke-width="0"/>
<polygon points="92,274.3 95.2,277.5 92,280.7 88.8,277.5" fill="#000" stroke="none" stroke-width="0"/>
<rect x="96.0" y="271.1" width="5.4" height="5.4" fill="#000" stroke="none" stroke-width="0" />
<polygon points="92,287.5 94.7,282.64 89.3,282.64" fill="#000" stroke="none" stroke-width="0"/>
<circle cx="131.8" cy="248.7" r="2.7" fill="#000"/>
<line x1="131.8" y1="253.6" x2="131.8" y2="257.2" stroke="#000" stroke-width="1.4" />
<ellipse cx="128" cy="282.5" rx="2.4000000000000004" ry="1.7250000000000003" fill="#fff" stroke="#000" stroke-width="1.6"/>
<circle cx="128" cy="282.5" r="0.6" fill="#555"/>
<ellipse cx="135.2" cy="277.3" rx="2.4000000000000004" ry="1.7250000000000003" fill="#fff" stroke="#000" stroke-width="1.6"/>
<circle cx="135.2" cy="277.3" r="0.6" fill="#555"/>
<text x="183.6" y="184.6" font-size="10.6" font-weight="bold" font-style="normal" fill="#000" text-anchor="start" >E</text>
<text x="255.2" y="191.2" font-size="10" font-weight="bold" font-style="normal" fill="#000" text-anchor="start" textLength="26.2" lengthAdjust="spacingAndGlyphs" >17/46</text>
<text x="198.6" y="273.5" font-size="11" font-weight="normal" font-style="normal" fill="#000" text-anchor="middle" textLength="45" lengthAdjust="spacingAndGlyphs" transform="rotate(-90 198.6 273.5)" stroke="#000" stroke-width="0.6">miR-29b</text>
<line x1="216.8" y1="185.2" x2="216.8" y2="220.4" stroke="#000" stroke-width="1.5" />
<line x1="216.8" y1="219.8" x2="218.3" y2="219.8" stroke="#000" stroke-width="1.2" />
<line x1="212.8" y1="219.8" x2="216.8" y2="219.8" stroke="#000" stroke-width="1.2" />
<line x1="214.0" y1="214.15" x2="216.8" y2="214.15" stroke="#000" stroke-width="1.2" />
<line x1="212.8" y1="208.5" x2="216.8" y2="208.5" stroke="#000" stroke-width="1.2" />
<line x1="214.0" y1="202.85000000000002" x2="216.8" y2="202.85000000000002" stroke="#000" stroke-width="1.2" />
<line x1="212.8" y1="197.20000000000002" x2="216.8" y2="197.20000000000002" stroke="#000" stroke-width="1.2" />
<line x1="214.0" y1="191.55" x2="216.8" y2="191.55" stroke="#000" stroke-width="1.2" />
<line x1="212.8" y1="185.9" x2="216.8" y2="185.9" stroke="#000" stroke-width="1.2" />
<text x="210.8" y="221.8" font-size="8.0" font-weight="normal" font-style="normal" fill="#111" text-anchor="end" stroke="#000" stroke-width="0.35">4</text>
<text x="210.8" y="210.5" font-size="8.0" font-weight="normal" font-style="normal" fill="#111" text-anchor="end" stroke="#000" stroke-width="0.35">5</text>
<text x="210.8" y="199.20000000000002" font-size="8.0" font-weight="normal" font-style="normal" fill="#111" text-anchor="end" stroke="#000" stroke-width="0.35">6</text>
<text x="210.8" y="187.9" font-size="8.0" font-weight="normal" font-style="normal" fill="#111" text-anchor="end" stroke="#000" stroke-width="0.35">7</text>
<line x1="215.8" y1="228.6" x2="215.8" y2="366" stroke="#000" stroke-width="1.5" />
<line x1="213.8" y1="228.6" x2="218.6" y2="228.6" stroke="#000" stroke-width="1.3" />
<line x1="211.8" y1="365.2" x2="215.8" y2="365.2" stroke="#000" stroke-width="1.2" />
<line x1="213.0" y1="357.32" x2="215.8" y2="357.32" stroke="#000" stroke-width="1.2" />
<line x1="213.0" y1="349.44" x2="215.8" y2="349.44" stroke="#000" stroke-width="1.2" />
<line x1="213.0" y1="341.56" x2="215.8" y2="341.56" stroke="#000" stroke-width="1.2" />
<line x1="213.0" y1="333.68" x2="215.8" y2="333.68" stroke="#000" stroke-width="1.2" />
<line x1="211.8" y1="325.8" x2="215.8" y2="325.8" stroke="#000" stroke-width="1.2" />
<line x1="213.0" y1="317.91999999999996" x2="215.8" y2="317.91999999999996" stroke="#000" stroke-width="1.2" />
<line x1="213.0" y1="310.03999999999996" x2="215.8" y2="310.03999999999996" stroke="#000" stroke-width="1.2" />
<line x1="213.0" y1="302.15999999999997" x2="215.8" y2="302.15999999999997" stroke="#000" stroke-width="1.2" />
<line x1="213.0" y1="294.28" x2="215.8" y2="294.28" stroke="#000" stroke-width="1.2" />
<line x1="211.8" y1="286.4" x2="215.8" y2="286.4" stroke="#000" stroke-width="1.2" />
<line x1="213.0" y1="278.52" x2="215.8" y2="278.52" stroke="#000" stroke-width="1.2" />
<line x1="213.0" y1="270.64" x2="215.8" y2="270.64" stroke="#000" stroke-width="1.2" />
<line x1="213.0" y1="262.76" x2="215.8" y2="262.76" stroke="#000" stroke-width="1.2" />
<line x1="213.0" y1="254.88" x2="215.8" y2="254.88" stroke="#000" stroke-width="1.2" />
<line x1="211.8" y1="247.0" x2="215.8" y2="247.0" stroke="#000" stroke-width="1.2" />
<line x1="213.0" y1="239.12" x2="215.8" y2="239.12" stroke="#000" stroke-width="1.2" />
<line x1="213.0" y1="231.23999999999998" x2="215.8" y2="231.23999999999998" stroke="#000" stroke-width="1.2" />
<text x="210.8" y="367.5" font-size="8.0" font-weight="normal" font-style="normal" fill="#111" text-anchor="end" stroke="#000" stroke-width="0.35">0</text>
<text x="210.8" y="328.1" font-size="8.0" font-weight="normal" font-style="normal" fill="#111" text-anchor="end" stroke="#000" stroke-width="0.35">1</text>
<text x="210.8" y="288.7" font-size="8.0" font-weight="normal" font-style="normal" fill="#111" text-anchor="end" stroke="#000" stroke-width="0.35">2</text>
<text x="210.8" y="249.3" font-size="8.0" font-weight="normal" font-style="normal" fill="#111" text-anchor="end" stroke="#000" stroke-width="0.35">3</text>
<line x1="215" y1="365.5" x2="315" y2="365.5" stroke="#000" stroke-width="1.8" />
<text x="241" y="378" font-size="10.5" font-weight="bold" font-style="normal" fill="#000" text-anchor="middle" >-</text>
<text x="295.2" y="378.4" font-size="11" font-weight="bold" font-style="normal" fill="#000" text-anchor="middle" >+</text>
<text x="248" y="393.5" font-size="10.6" font-weight="bold" font-style="normal" fill="#000" text-anchor="start" textLength="42.3" lengthAdjust="spacingAndGlyphs" >LBH589</text>
<line x1="240.6" y1="252.3" x2="271.9" y2="228.6" stroke="#000" stroke-width="1.3" />
<line x1="240.6" y1="298" x2="272.4" y2="228.6" stroke="#000" stroke-width="1.4" />
<line x1="240.6" y1="314" x2="282.6" y2="228.6" stroke="#000" stroke-width="2.5" />
<line x1="240.6" y1="336" x2="291.2" y2="233.7" stroke="#000" stroke-width="1.4" />
<line x1="240.6" y1="298" x2="291.2" y2="251.4" stroke="#000" stroke-width="1.4" />
<line x1="240.6" y1="298" x2="291.2" y2="267.2" stroke="#000" stroke-width="1.4" />
<line x1="240.6" y1="301" x2="291.2" y2="283.3" stroke="#000" stroke-width="1.4" />
<line x1="240.6" y1="319" x2="291.2" y2="290.3" stroke="#000" stroke-width="1.3" />
<line x1="240.6" y1="345" x2="291.2" y2="300.5" stroke="#000" stroke-width="1.3" />
<line x1="240.6" y1="333.7" x2="291.2" y2="312" stroke="#000" stroke-width="1.4" />
<line x1="240.6" y1="334.5" x2="291.2" y2="314.5" stroke="#000" stroke-width="1.4" />
<line x1="240.6" y1="335" x2="291.2" y2="317" stroke="#000" stroke-width="1.4" />
<line x1="240.6" y1="336" x2="291.2" y2="319.5" stroke="#000" stroke-width="1.4" />
<line x1="240.6" y1="345" x2="291.2" y2="322" stroke="#000" stroke-width="1.3" />
<line x1="240.6" y1="349.5" x2="291.2" y2="325.6" stroke="#000" stroke-width="1.3" />
<line x1="240.6" y1="334" x2="291.2" y2="328.4" stroke="#000" stroke-width="1.2" />
<line x1="240.6" y1="354.6" x2="291.2" y2="349" stroke="#000" stroke-width="1.2" />
<line x1="277.2" y1="219.8" x2="290" y2="191.6" stroke="#000" stroke-width="1.8" />
<line x1="283" y1="219.8" x2="289.5" y2="215" stroke="#000" stroke-width="1.4" />
<line x1="284.5" y1="219.8" x2="290" y2="213" stroke="#000" stroke-width="1.4" />
<polygon points="240.6,250.20000000000002 242.79999999999998,254.06 238.4,254.06" fill="#fff" stroke="#000" stroke-width="1.0"/>
<rect x="238.4" y="295.6" width="4.4" height="4.4" fill="#fff" stroke="#000" stroke-width="1.1" />
<rect x="237.9" y="297.8" width="5.4" height="2.7" fill="#000" stroke="none" stroke-width="0" />
<circle cx="240.6" cy="300.6" r="2.7" fill="#000"/>
<rect x="237.9" y="311.1" width="5.4" height="5.4" fill="#000" stroke="none" stroke-width="0" />
<polygon points="240.6,316.5 243.29999999999998,319.2 240.6,321.9 237.9,319.2" fill="#fff" stroke="#000" stroke-width="1.1"/>
<circle cx="240.6" cy="332.8" r="2.7" fill="#000"/>
<circle cx="240.6" cy="334.6" r="2.1500000000000004" fill="#fff" stroke="#000" stroke-width="1.1"/>
<circle cx="240.6" cy="334.6" r="0.9" fill="#666"/>
<rect x="238.4" y="333.8" width="4.4" height="4.4" fill="#888" stroke="#000" stroke-width="1.1" />
<rect x="237.9" y="342.3" width="5.4" height="5.4" fill="#000" stroke="none" stroke-width="0" />
<circle cx="240.6" cy="350" r="2.1500000000000004" fill="#fff" stroke="#000" stroke-width="1.1"/>
<polygon points="240.6,351.7 243.29999999999998,356.56 237.9,356.56" fill="#000" stroke="none" stroke-width="0"/>
<polygon points="291.6,186.20000000000002 294.3,188.9 291.6,191.6 288.90000000000003,188.9" fill="#fff" stroke="#000" stroke-width="1.1"/>
<rect x="288.90000000000003" y="203.8" width="5.4" height="5.4" fill="#000" stroke="none" stroke-width="0" />
<rect x="290.1" y="205.6" width="3.0000000000000004" height="0.9" fill="#fff" stroke="none" stroke-width="0" />
<rect x="288.7" y="207.8" width="5.4" height="5.4" fill="#000" stroke="none" stroke-width="0" />
<circle cx="291.4" cy="212.5" r="2.1500000000000004" fill="#fff" stroke="#000" stroke-width="1.1"/>
<path d="M291.4,209.8 A2.7,2.7 0 0 1 291.4,215.2 Z" fill="#000"/>
<circle cx="291.2" cy="233.7" r="2.1500000000000004" fill="#fff" stroke="#000" stroke-width="1.1"/>
<circle cx="291.2" cy="251.4" r="2.1500000000000004" fill="#fff" stroke="#000" stroke-width="1.1"/>
<circle cx="291.2" cy="251.4" r="0.9" fill="#666"/>
<circle cx="291.2" cy="267.2" r="2.1500000000000004" fill="#fff" stroke="#000" stroke-width="1.1"/>
<line x1="289.5" y1="267.2" x2="292.9" y2="267.2" stroke="#000" stroke-width="1" />
<circle cx="291.2" cy="283.3" r="2.1500000000000004" fill="#fff" stroke="#000" stroke-width="1.1"/>
<line x1="289.5" y1="283.3" x2="292.9" y2="283.3" stroke="#000" stroke-width="1" />
<polygon points="291.2,288.1 293.9,290.8 291.2,293.5 288.5,290.8" fill="#fff" stroke="#000" stroke-width="1.1"/>
<rect x="288.5" y="297.8" width="5.4" height="5.4" fill="#000" stroke="none" stroke-width="0" />
<circle cx="291.2" cy="312" r="2.7" fill="#000"/>
<circle cx="291.2" cy="314.5" r="2.1500000000000004" fill="#fff" stroke="#000" stroke-width="1.1"/>
<line x1="289.5" y1="314.5" x2="292.9" y2="314.5" stroke="#000" stroke-width="1" />
<circle cx="291.2" cy="317" r="2.7" fill="#000"/>
<circle cx="291.2" cy="319.5" r="2.1500000000000004" fill="#fff" stroke="#000" stroke-width="1.1"/>
<circle cx="291.2" cy="319.5" r="0.9" fill="#666"/>
<circle cx="291.2" cy="322" r="2.1500000000000004" fill="#fff" stroke="#000" stroke-width="1.1"/>
<line x1="289.5" y1="322" x2="292.9" y2="322" stroke="#000" stroke-width="1" />
<line x1="291.2" y1="323.8" x2="291.2" y2="327.40000000000003" stroke="#000" stroke-width="1.4" />
<line x1="291.2" y1="326.59999999999997" x2="291.2" y2="330.2" stroke="#000" stroke-width="1.4" />
<polygon points="291.2,346.3 293.9,351.16 288.5,351.16" fill="#000" stroke="none" stroke-width="0"/>
<text x="390" y="188" font-size="10" font-weight="bold" font-style="normal" fill="#000" text-anchor="start" >F</text>
<text x="454.6" y="200.8" font-size="10.2" font-weight="bold" font-style="normal" fill="#000" text-anchor="start" textLength="26.9" lengthAdjust="spacingAndGlyphs" stroke="#000" stroke-width="0.25">CLL21</text>
<line x1="422" y1="204.7" x2="510.8" y2="204.7" stroke="#777" stroke-width="1.3" />
<line x1="411.6" y1="211.6" x2="411.6" y2="355" stroke="#000" stroke-width="1.3" />
<line x1="409.6" y1="354.09999999999997" x2="411.6" y2="354.09999999999997" stroke="#000" stroke-width="1" />
<line x1="408.6" y1="336.4" x2="411.6" y2="336.4" stroke="#000" stroke-width="1" />
<line x1="409.6" y1="318.7" x2="411.6" y2="318.7" stroke="#000" stroke-width="1" />
<line x1="408.6" y1="301.0" x2="411.6" y2="301.0" stroke="#000" stroke-width="1" />
<line x1="409.6" y1="283.29999999999995" x2="411.6" y2="283.29999999999995" stroke="#000" stroke-width="1" />
<line x1="408.6" y1="265.59999999999997" x2="411.6" y2="265.59999999999997" stroke="#000" stroke-width="1" />
<line x1="409.6" y1="247.89999999999998" x2="411.6" y2="247.89999999999998" stroke="#000" stroke-width="1" />
<line x1="408.6" y1="230.2" x2="411.6" y2="230.2" stroke="#000" stroke-width="1" />
<line x1="409.6" y1="212.5" x2="411.6" y2="212.5" stroke="#000" stroke-width="1" />
<text x="408.2" y="338.5" font-size="6.0" font-weight="bold" font-style="normal" fill="#111" text-anchor="end" >1</text>
<text x="408.2" y="303.1" font-size="6.0" font-weight="bold" font-style="normal" fill="#111" text-anchor="end" >2</text>
<text x="408.2" y="267.7" font-size="6.0" font-weight="bold" font-style="normal" fill="#111" text-anchor="end" >3</text>
<text x="408.2" y="232.29999999999998" font-size="6.0" font-weight="bold" font-style="normal" fill="#111" text-anchor="end" >4</text>
<line x1="411" y1="354.4" x2="506.7" y2="354.4" stroke="#000" stroke-width="1.8" />
<rect x="421.0" y="337.09999999999997" width="10.6" height="17.3" fill="url(#hatch)" stroke="#000" stroke-width="1.4" />
<rect x="438.7" y="216.03199999999998" width="11.200000000000022" height="138.368" fill="url(#hatch)" stroke="#000" stroke-width="1.4" />
<rect x="468.7" y="337.09999999999997" width="10.999999999999977" height="17.3" fill="url(#check)" stroke="#000" stroke-width="1.4" />
<rect x="486.5" y="279.75199999999995" width="11.1" height="74.64800000000001" fill="url(#check)" stroke="#000" stroke-width="1.4" />
<text x="429" y="367.6" font-size="8" font-weight="normal" font-style="normal" fill="#111" text-anchor="middle" >-</text>
<text x="443.5" y="367.6" font-size="8" font-weight="normal" font-style="normal" fill="#111" text-anchor="middle" >+</text>
<text x="474" y="367.6" font-size="8" font-weight="normal" font-style="normal" fill="#111" text-anchor="middle" >-</text>
<text x="493.5" y="367.6" font-size="8" font-weight="normal" font-style="normal" fill="#111" text-anchor="middle" >+</text>
<line x1="404" y1="373.9" x2="455.4" y2="373.9" stroke="#777" stroke-width="1.2" />
<line x1="459.6" y1="373.9" x2="508.5" y2="373.9" stroke="#777" stroke-width="1.2" />
<text x="418.5" y="390" font-size="9.5" font-weight="normal" font-style="normal" fill="#000" text-anchor="start" textLength="24.2" lengthAdjust="spacingAndGlyphs" stroke="#000" stroke-width="0.55">SAHA</text>
<text x="473.4" y="390" font-size="9.5" font-weight="normal" font-style="normal" fill="#000" text-anchor="start" textLength="28.2" lengthAdjust="spacingAndGlyphs" stroke="#000" stroke-width="0.55">MS275</text>
<text x="387.2" y="281.6" font-size="7.6" font-weight="normal" font-style="normal" fill="#000" text-anchor="middle" textLength="30.5" lengthAdjust="spacingAndGlyphs" transform="rotate(-90 387.2 281.6)" stroke="#000" stroke-width="0.4">miR 29b</text>
<text x="395.4" y="282.1" font-size="6.4" font-weight="normal" font-style="normal" fill="#000" text-anchor="middle" textLength="92.6" lengthAdjust="spacingAndGlyphs" transform="rotate(-90 395.4 282.1)" stroke="#000" stroke-width="0.35">fold increase over control</text>
</svg></body></html>
